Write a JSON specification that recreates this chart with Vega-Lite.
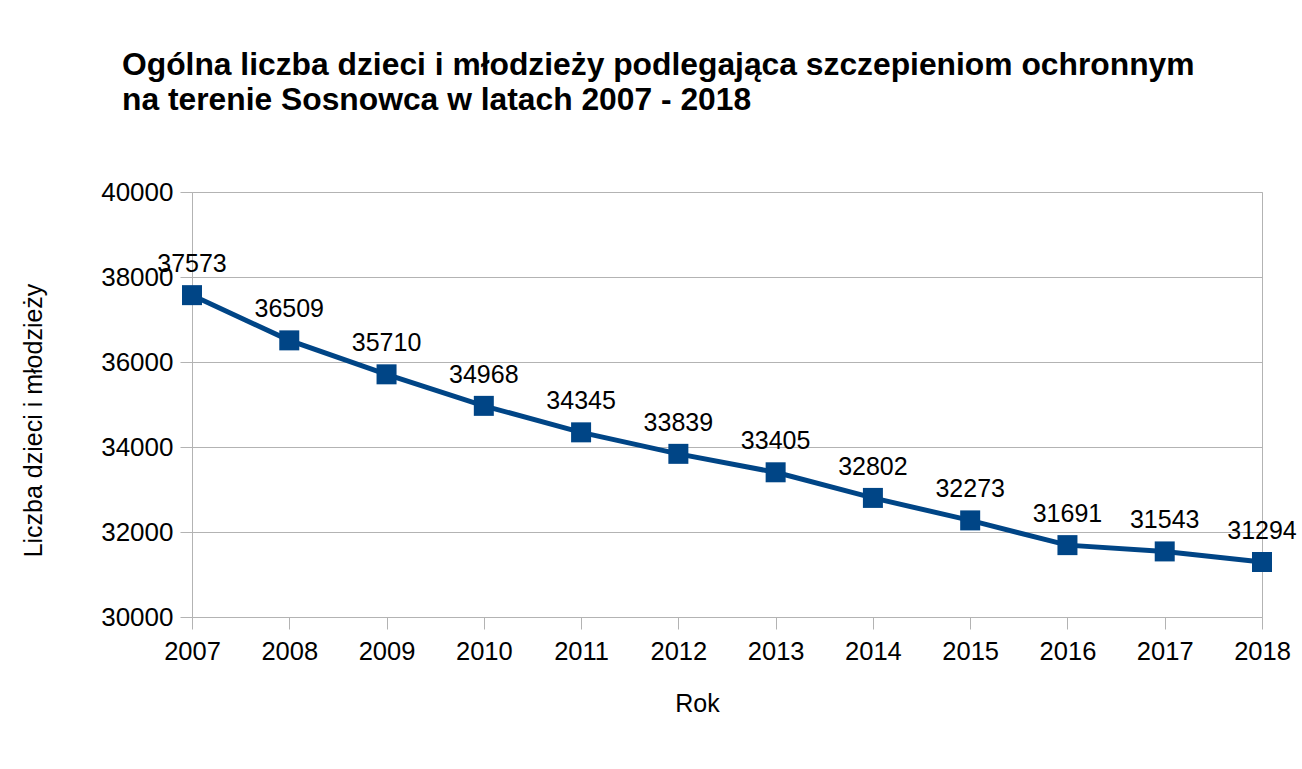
{
  "$schema": "https://vega.github.io/schema/vega-lite/v6.json",
  "width": 1070,
  "height": 425,
  "autosize": {"type": "none"},
  "padding": {"left": 192, "top": 192, "right": 40, "bottom": 152},
  "background": "white",
  "config": {
    "font": "Liberation Sans",
    "view": {"stroke": "#b3b3b3", "strokeWidth": 1},
    "axis": {
      "labelFont": "Liberation Sans",
      "titleFont": "Liberation Sans",
      "labelColor": "black",
      "titleColor": "black",
      "titleFontWeight": "normal",
      "domain": false,
      "tickColor": "#b3b3b3",
      "gridColor": "#b3b3b3"
    }
  },
  "title": {
    "text": ["Ogólna liczba dzieci i młodzieży podlegająca szczepieniom ochronnym", "na terenie Sosnowca w latach 2007 - 2018"],
    "anchor": "start",
    "frame": "group",
    "font": "Liberation Sans",
    "fontSize": 31.8,
    "fontWeight": "bold",
    "color": "black",
    "lineHeight": 35,
    "dx": -70,
    "offset": 62
  },
  "data": {
    "values": [
      {"Rok": "2007", "Liczba": 37573},
      {"Rok": "2008", "Liczba": 36509},
      {"Rok": "2009", "Liczba": 35710},
      {"Rok": "2010", "Liczba": 34968},
      {"Rok": "2011", "Liczba": 34345},
      {"Rok": "2012", "Liczba": 33839},
      {"Rok": "2013", "Liczba": 33405},
      {"Rok": "2014", "Liczba": 32802},
      {"Rok": "2015", "Liczba": 32273},
      {"Rok": "2016", "Liczba": 31691},
      {"Rok": "2017", "Liczba": 31543},
      {"Rok": "2018", "Liczba": 31294}
    ]
  },
  "encoding": {
    "x": {
      "field": "Rok",
      "type": "ordinal",
      "scale": {"type": "point", "padding": 0},
      "axis": {
        "title": "Rok",
        "labelAngle": 0,
        "labelFontSize": 25.5,
        "titleFontSize": 25,
        "tickSize": 12,
        "labelPadding": 10,
        "grid": false,
        "titleX": 505,
        "titleY": 86,
        "titleBaseline": "middle",
        "titleAnchor": "middle"
      }
    },
    "y": {
      "field": "Liczba",
      "type": "quantitative",
      "scale": {"domain": [30000, 40000], "nice": false, "zero": false},
      "axis": {
        "title": "Liczba dzieci i młodzieży",
        "values": [30000, 32000, 34000, 36000, 38000, 40000],
        "format": "d",
        "labelFontSize": 26,
        "titleFontSize": 25,
        "tickSize": 12,
        "labelPadding": 7,
        "grid": true,
        "titleX": -159,
        "titleY": 228,
        "titleBaseline": "middle",
        "titleAnchor": "middle"
      }
    }
  },
  "layer": [
    {
      "mark": {"type": "line", "color": "#004586", "strokeWidth": 5}
    },
    {
      "mark": {"type": "point", "shape": "square", "filled": true, "size": 400, "color": "#004586", "opacity": 1}
    },
    {
      "mark": {"type": "text", "fontSize": 25, "dy": -23, "baseline": "alphabetic", "align": "center", "color": "black"},
      "encoding": {"text": {"field": "Liczba", "type": "quantitative", "format": "d"}}
    }
  ]
}
